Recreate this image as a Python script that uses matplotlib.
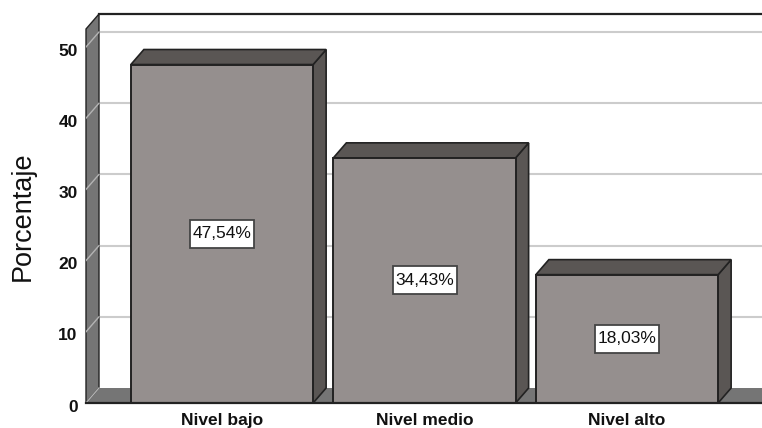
import matplotlib
matplotlib.use('Agg')
import matplotlib.pyplot as plt
from matplotlib.patches import Polygon, Rectangle
from matplotlib.transforms import ScaledTranslation

categories = ['Nivel bajo', 'Nivel medio', 'Nivel alto']
values = [47.54, 34.43, 18.03]
value_labels = ['47,54%', '34,43%', '18,03%']
y_ticks = [0, 10, 20, 30, 40, 50]

plt.rcParams['font.family'] = ['Liberation Sans', 'DejaVu Sans']

W, H = 762, 428
fig = plt.figure(figsize=(W / 100, H / 100), dpi=100)
# axes box runs from the front floor line up to the top of the back wall
ax = fig.add_axes([86 / W, 1 - 403 / H, (W - 86) / W, (403 - 14) / H])

# one category is 202.5 px wide, one y unit 7.12 px
x_left = (86 - 222) / 202.5
x_right = (W - 222) / 202.5
ax.set_xlim(x_left, x_right)
ax.set_ylim(0, (403 - 14) / 7.12)

dx = 13 / 202.5   # 3d depth
dy = 15 / 7.12
bar_w = 0.9
wall_c = '#757575'
top_c = '#5a5654'
bar_c = '#958f8e'
edge_c = '#222222'
y_top = ax.get_ylim()[1]

# floor and left wall
ax.add_patch(Polygon([(x_left, 0), (x_left + dx, dy), (x_right, dy), (x_right, 0)],
                     fc=wall_c, ec='none', zorder=1, clip_on=False))
ax.add_patch(Polygon([(x_left, 0), (x_left + dx, dy), (x_left + dx, y_top), (x_left, y_top - dy)],
                     fc=wall_c, ec=edge_c, lw=1, zorder=3, clip_on=False))

# gridlines on back wall and across the side wall
for t in y_ticks[1:]:
    ax.plot([x_left + dx, x_right], [t + dy, t + dy], color='#cccccc', lw=1.5, zorder=1)
    ax.plot([x_left, x_left + dx], [t, t + dy], color='#b4b4b4', lw=1, zorder=4)
ax.plot([x_left, x_left + dx], [0, dy], color='#b4b4b4', lw=1, zorder=4)

# back wall top edge and floor front edge
ax.plot([x_left + dx, x_right], [y_top, y_top], color=edge_c, lw=1.6, zorder=5, clip_on=False)
ax.plot([x_left, x_right], [0, 0], color=edge_c, lw=1.6, zorder=7, clip_on=False)

for i, v in enumerate(values):
    l = i - bar_w / 2
    r = i + bar_w / 2
    ax.add_patch(Polygon([(r, 0), (r + dx, dy), (r + dx, v + dy), (r, v)],
                         fc=top_c, ec=edge_c, lw=1.2, zorder=5))
    ax.add_patch(Polygon([(l, v), (l + dx, v + dy), (r + dx, v + dy), (r, v)],
                         fc=top_c, ec=edge_c, lw=1.2, zorder=5))
    ax.add_patch(Polygon([(l, 0), (l, v), (r, v), (r, 0)],
                         fc=bar_c, ec=edge_c, lw=1.4, zorder=6))
    # label box is taller than the text pad would give, so draw it in inches around the bar centre
    box_tr = fig.dpi_scale_trans + ScaledTranslation(i, v / 2, ax.transData)
    ax.add_patch(Rectangle((-0.32, -0.14), 0.64, 0.28, transform=box_tr, fc='white', ec='#444444', lw=1.3, zorder=8))
    ax.text(i, v / 2, value_labels[i], ha='center', va='center', fontsize=12.5, color='#111111', zorder=9)

for s in ax.spines.values():
    s.set_visible(False)
ax.set_xticks(range(len(categories)))
ax.set_xticklabels(categories, fontweight='bold', fontsize=12.5, color='#111111')
ax.set_yticks(y_ticks)
ax.set_yticklabels(y_ticks, fontweight='bold', fontsize=12.5, color='#111111')
ax.tick_params(length=0, axis='y', pad=6)
ax.tick_params(length=0, axis='x', pad=7)
offset = ScaledTranslation(0, -2.5 / 100, fig.dpi_scale_trans)
for lab in ax.get_yticklabels():
    lab.set_transform(lab.get_transform() + offset)

fig.text(23 / W, 1 - 216 / H, 'Porcentaje', rotation=90, ha='center', va='center', fontsize=19.5, color='#111111')

fig.savefig('out.png', dpi=100)
